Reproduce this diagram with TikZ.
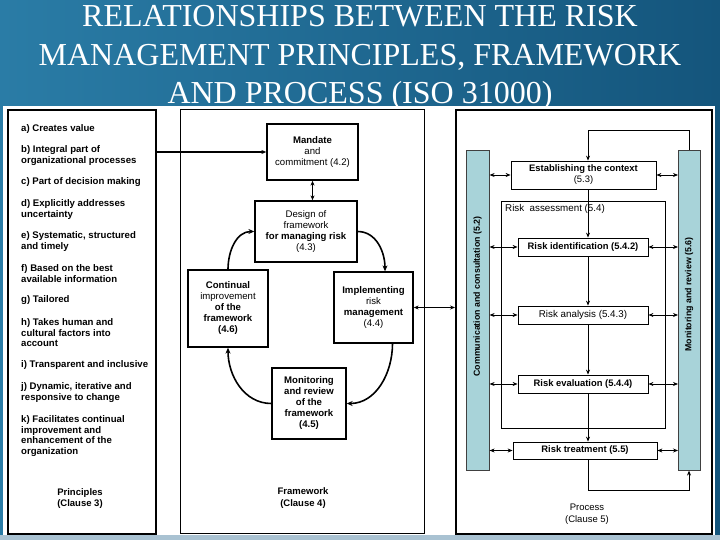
\documentclass[tikz,border=0pt]{standalone}
\usepackage{fontspec}
\setmainfont{Liberation Serif}
\newfontfamily\arialf{Liberation Sans}
\usetikzlibrary{arrows.meta}
\definecolor{bgdark}{HTML}{14557C}
\definecolor{bglight}{HTML}{2A7CA6}
\definecolor{barblue}{HTML}{A8D3D9}
\definecolor{bottomstrip}{HTML}{A9C2D2}
\begin{document}
\begin{tikzpicture}[x=1pt,y=-1pt,
  fw/.style={draw,line width=1.3pt,fill=white,inner sep=1pt,align=center,font=\arialf\fontsize{9.6}{11}\selectfont},
  pb/.style={draw,line width=0.8pt,fill=white,inner sep=0pt,align=center,font=\arialf\bfseries\fontsize{9.4}{11}\selectfont},
  arr/.style={-{Stealth[length=5pt,width=4pt]},line width=0.8pt},
  darr/.style={{Stealth[length=5pt,width=4pt]}-{Stealth[length=5pt,width=4pt]},line width=0.8pt},
  carr/.style={-{Stealth[length=6pt,width=5pt]},line width=1.6pt},
  pr/.style={anchor=north west,align=left,inner sep=0pt,font=\arialf\bfseries\fontsize{9.6}{10.5}\selectfont},
  ttl/.style={font=\fontsize{32}{38}\selectfont,anchor=base,inner sep=0pt,text=white},
  lbl/.style={align=center,inner sep=0pt,font=\arialf\fontsize{9.5}{12}\selectfont}
]
\useasboundingbox (0,0) rectangle (720,540);
% background
\shade[left color=bglight,right color=bgdark] (0,0) rectangle (720,540);
\fill[bottomstrip] (0,535) rectangle (720,540);
% title
\node[ttl] (t1) at (360,27) {RELATIONSHIPS BETWEEN THE RISK};
\node[ttl] (t2) at (360,66) {MANAGEMENT PRINCIPLES, FRAMEWORK};
\node[ttl] (t3) at (360,104) {AND PROCESS (ISO 31000)};
% white panel
\fill[white] (3,106) rectangle (715,535);

% ---------- Principles ----------
\node[draw,line width=1.6pt,anchor=north west,minimum width=148,minimum height=424,inner sep=0pt] (prin) at (7,109) {};
\node[pr] (pa) at (21,124.5) {a) Creates value};
\node[pr] (pb) at (21,145.5) {b) Integral part of\\organizational processes};
\node[pr] (pc) at (21,177.5) {c) Part of decision making};
\node[pr] (pd) at (21,199.5) {d) Explicitly addresses\\uncertainty};
\node[pr] (pe) at (21,231.5) {e) Systematic, structured\\and timely};
\node[pr] (pf) at (21,264.5) {f) Based on the best\\available information};
\node[pr] (pg) at (21,295.5) {g) Tailored};
\node[pr] (ph) at (21,318.5) {h) Takes human and\\cultural factors into\\account};
\node[pr] (pi) at (21,360.5) {i) Transparent and inclusive};
\node[pr] (pj) at (21,382.5) {j) Dynamic, iterative and\\responsive to change};
\node[pr] (pk) at (21,415.5) {k) Facilitates continual\\improvement and\\enhancement of the\\organization};
\node[lbl,font=\arialf\bfseries\fontsize{9.5}{11.5}\selectfont] (plab) at (80,498.5) {Principles\\(Clause 3)};

% ---------- Framework ----------
\node[draw,line width=1pt,anchor=north west,minimum width=244,minimum height=424,inner sep=0pt] (fwk) at (180,109) {};
\node[fw,minimum width=91,minimum height=56] (mand) at (312.5,152) {\textbf{Mandate}\\and\\commitment (4.2)};
\node[fw,minimum width=102,minimum height=61] (design) at (306,231.5) {Design of\\framework\\\textbf{for managing risk}\\(4.3)};
\node[fw,minimum width=80,minimum height=77] (cont) at (228,308.5) {\textbf{Continual}\\improvement\\\textbf{of the}\\\textbf{framework}\\\textbf{(4.6)}};
\node[fw,minimum width=79,minimum height=71] (impl) at (373.5,307.5) {\textbf{Implementing}\\risk\\\textbf{management}\\(4.4)};
\node[fw,minimum width=74,minimum height=71,font=\arialf\bfseries\fontsize{9.6}{11}\selectfont] (mon) at (309,403.5) {Monitoring\\and review\\of the\\framework\\(4.5)};
\node[lbl,font=\arialf\bfseries\fontsize{9.5}{12}\selectfont] (flab) at (303,498) {Framework\\(Clause 4)};

\draw[arr,line width=1.3pt] (prin.east |- mand.west) -- (mand.west);
\draw[darr,line width=1.3pt] (mand.south) -- (mand.south |- design.north);
\draw[carr] (cont.north) to[out=90,in=180] (design.west);
\draw[carr] (design.east) to[out=0,in=90] ([xshift=11.5pt]impl.north);
\draw[carr] ([xshift=19pt]impl.south) to[out=-90,in=0] (mon.east);
\draw[carr] (mon.west) to[out=180,in=-90] (cont.south);

% ---------- Process ----------
\node[draw,line width=1.6pt,anchor=north west,minimum width=256,minimum height=424,inner sep=0pt] (proc) at (455,109) {};
\draw[darr,line width=1pt] (impl.east) -- (impl.east -| proc.west);

\node[draw=black!75,fill=barblue,line width=0.6pt,anchor=north west,minimum width=23,minimum height=320,inner sep=0pt] (cc) at (466,150) {};
\node[draw=black!75,fill=barblue,line width=0.6pt,anchor=north west,minimum width=22,minimum height=320,inner sep=0pt] (mr) at (678,150) {};
\node[rotate=90,inner sep=0pt,font=\arialf\bfseries\fontsize{8.8}{10}\selectfont] (cctext) at (477.5,296.5) {Communication and consultation (5.2)};
\node[rotate=90,inner sep=0pt,font=\arialf\bfseries\fontsize{8.8}{10}\selectfont] (mrtext) at (689,294.5) {Monitoring and review (5.6)};

\node[draw,line width=0.8pt,anchor=north west,minimum width=164,minimum height=227,inner sep=0pt] (ra) at (501,201) {};
\node[anchor=north west,inner sep=0pt,font=\arialf\fontsize{9.8}{11}\selectfont] (ralab) at (505,204) {Risk\ \ assessment (5.4)};

\node[pb,minimum width=145,minimum height=28] (est) at (583.5,175) {Establishing the context\\\mdseries(5.3)};
\node[pb,minimum width=130,minimum height=18] (rid) at (583,247) {Risk identification (5.4.2)};
\node[pb,minimum width=130,minimum height=18,font=\arialf\fontsize{9.8}{11}\selectfont] (ran) at (583,315) {Risk analysis (5.4.3)};
\node[pb,minimum width=130,minimum height=18] (rev) at (583,384) {Risk evaluation (5.4.4)};
\node[pb,minimum width=144,minimum height=17] (rtr) at (585,450.5) {Risk treatment (5.5)};

\node[lbl] (prlab) at (587,514) {Process\\(Clause 5)};

\coordinate (cx) at (588,0);
\coordinate (fbt) at (588,130);
\coordinate (fbb) at (689,490);
\draw[arr] (mr.north) |- (fbt) -- (est.north -| cx);
\draw[arr] (est.south -| cx) -- (rid.north -| cx);
\draw[arr] (rid.south -| cx) -- (ran.north -| cx);
\draw[arr] (ran.south -| cx) -- (rev.north -| cx);
\draw[arr] (rev.south -| cx) -- (rtr.north -| cx);
\draw[arr] (rtr.south -| cx) |- (fbb) -- (fbb |- mr.south);

\foreach \b in {est,rid,ran,rev,rtr}{
  \draw[darr] (cc.east |- \b.west) -- (\b.west);
  \draw[darr] (\b.east) -- (\b.east -| mr.west);
}
\end{tikzpicture}
\end{document}
